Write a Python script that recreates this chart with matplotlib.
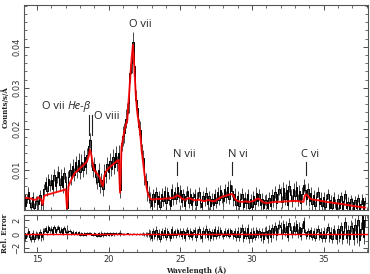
import numpy as np
import matplotlib.pyplot as plt
from matplotlib.ticker import MultipleLocator

# wavelength bins (Angstrom), 0.1 A wide, 14.0 .. 37.9
wave = np.round(np.arange(14.0, 37.95, 0.1), 2)

# observed flux (counts/s/A), one row per Angstrom
flux = [
    0.0015, 0.0038, 0.0012, 0.0030, 0.0045, 0.0018, 0.0009, 0.0033, 0.0008, 0.0025,  # 14
    0.0024, 0.0016, 0.0038, 0.0014, 0.0016, 0.0052, 0.0070, 0.0048, 0.0078, 0.0062,  # 15
    0.0075, 0.0052, 0.0088, 0.0060, 0.0082, 0.0095, 0.0064, 0.0086, 0.0058, 0.0092,  # 16
    0.0070, 0.0008, 0.0082, 0.0100, 0.0079, 0.0110, 0.0088, 0.0118, 0.0096, 0.0124,  # 17
    0.0095, 0.0120, 0.0100, 0.0131, 0.0108, 0.0136, 0.0158, 0.0172, 0.0125, 0.0100,  # 18
    0.0115, 0.0082, 0.0070, 0.0100, 0.0060, 0.0076, 0.0052, 0.0098, 0.0084, 0.0114,  # 19
    0.0095, 0.0122, 0.0102, 0.0132, 0.0108, 0.0140, 0.0116, 0.0142, 0.0050, 0.0165,  # 20
    0.0182, 0.0190, 0.0225, 0.0238, 0.0262, 0.0335, 0.0360, 0.0412, 0.0352, 0.0270,  # 21
    0.0250, 0.0205, 0.0198, 0.0142, 0.0128, 0.0084, 0.0072, 0.0045, 0.0040, 0.0026,  # 22
    0.0012, 0.0040, 0.0022, 0.0046, 0.0016, 0.0035, 0.0010, 0.0042, 0.0024, 0.0048,  # 23
    0.0018, 0.0045, 0.0026, 0.0012, 0.0052, 0.0028, 0.0046, 0.0030, 0.0058, 0.0034,  # 24
    0.0050, 0.0022, 0.0040, 0.0012, 0.0036, 0.0048, 0.0020, 0.0042, 0.0015, 0.0034,  # 25
    0.0040, 0.0014, 0.0032, 0.0046, 0.0020, 0.0010, 0.0036, 0.0024, 0.0044, 0.0016,  # 26
    0.0036, 0.0011, 0.0030, 0.0015, 0.0040, 0.0020, 0.0046, 0.0026, 0.0050, 0.0032,  # 27
    0.0024, 0.0052, 0.0034, 0.0058, 0.0030, 0.0062, 0.0048, 0.0026, 0.0042, 0.0014,  # 28
    0.0036, 0.0012, 0.0030, 0.0042, 0.0009, 0.0032, 0.0018, 0.0040, 0.0008, 0.0028,  # 29
    0.0010, 0.0036, 0.0016, 0.0044, 0.0024, 0.0040, 0.0013, 0.0030, 0.0007, 0.0026,  # 30
    0.0026, 0.0007, 0.0032, 0.0012, 0.0038, 0.0024, 0.0046, 0.0018, 0.0040, 0.0052,  # 31
    0.0044, 0.0022, 0.0056, 0.0030, 0.0050, 0.0014, 0.0060, 0.0038, 0.0024, 0.0052,  # 32
    0.0036, 0.0058, 0.0026, 0.0048, 0.0018, 0.0042, 0.0062, 0.0050, 0.0028, 0.0054,  # 33
    0.0024, 0.0044, 0.0016, 0.0038, 0.0012, 0.0034, 0.0046, 0.0016, 0.0032, 0.0011,  # 34
    0.0034, 0.0010, 0.0030, 0.0042, 0.0008, 0.0027, 0.0006, 0.0033, 0.0018, 0.0005,  # 35
    0.0030, 0.0008, 0.0036, 0.0004, 0.0024, 0.0040, 0.0006, 0.0022, 0.0003, 0.0028,  # 36
    0.0022, 0.0003, 0.0026, 0.0007, 0.0031, 0.0002, 0.0016, 0.0032, 0.0004, 0.0024,  # 37
]

# model flux, same bins
model = [
    0.0031, 0.0032, 0.0032, 0.0031, 0.0031, 0.0030, 0.0030, 0.0028, 0.0027, 0.0027,  # 14
    0.0029, 0.0033, 0.0030, 0.0027, 0.0015, 0.0036, 0.0038, 0.0039, 0.0040, 0.0041,  # 15
    0.0042, 0.0043, 0.0044, 0.0045, 0.0046, 0.0047, 0.0048, 0.0049, 0.0050, 0.0051,  # 16
    0.0053, 0.0006, 0.0060, 0.0068, 0.0076, 0.0083, 0.0090, 0.0094, 0.0097, 0.0100,  # 17
    0.0104, 0.0107, 0.0110, 0.0113, 0.0117, 0.0122, 0.0132, 0.0149, 0.0135, 0.0112,  # 18
    0.0100, 0.0094, 0.0090, 0.0086, 0.0080, 0.0068, 0.0060, 0.0085, 0.0095, 0.0100,  # 19
    0.0104, 0.0107, 0.0110, 0.0113, 0.0116, 0.0119, 0.0122, 0.0124, 0.0044, 0.0155,  # 20
    0.0175, 0.0195, 0.0210, 0.0220, 0.0270, 0.0320, 0.0370, 0.0405, 0.0345, 0.0280,  # 21
    0.0240, 0.0215, 0.0190, 0.0150, 0.0120, 0.0090, 0.0068, 0.0048, 0.0036, 0.0030,  # 22
    0.0028, 0.0028, 0.0028, 0.0028, 0.0029, 0.0029, 0.0029, 0.0029, 0.0029, 0.0030,  # 23
    0.0030, 0.0030, 0.0030, 0.0031, 0.0031, 0.0032, 0.0033, 0.0036, 0.0038, 0.0036,  # 24
    0.0034, 0.0030, 0.0028, 0.0027, 0.0028, 0.0030, 0.0031, 0.0030, 0.0028, 0.0027,  # 25
    0.0026, 0.0026, 0.0027, 0.0027, 0.0026, 0.0025, 0.0024, 0.0024, 0.0025, 0.0026,  # 26
    0.0026, 0.0025, 0.0024, 0.0023, 0.0024, 0.0026, 0.0028, 0.0030, 0.0032, 0.0034,  # 27
    0.0035, 0.0036, 0.0037, 0.0038, 0.0039, 0.0040, 0.0041, 0.0038, 0.0030, 0.0026,  # 28
    0.0024, 0.0023, 0.0022, 0.0022, 0.0022, 0.0023, 0.0023, 0.0022, 0.0022, 0.0022,  # 29
    0.0023, 0.0024, 0.0026, 0.0028, 0.0030, 0.0029, 0.0026, 0.0023, 0.0021, 0.0020,  # 30
    0.0019, 0.0019, 0.0020, 0.0020, 0.0021, 0.0021, 0.0022, 0.0022, 0.0022, 0.0022,  # 31
    0.0022, 0.0022, 0.0023, 0.0023, 0.0023, 0.0023, 0.0023, 0.0024, 0.0024, 0.0024,  # 32
    0.0024, 0.0024, 0.0024, 0.0023, 0.0023, 0.0022, 0.0022, 0.0038, 0.0040, 0.0036,  # 33
    0.0032, 0.0029, 0.0028, 0.0027, 0.0027, 0.0026, 0.0026, 0.0025, 0.0024, 0.0024,  # 34
    0.0023, 0.0023, 0.0022, 0.0021, 0.0021, 0.0020, 0.0020, 0.0019, 0.0019, 0.0018,  # 35
    0.0018, 0.0017, 0.0017, 0.0016, 0.0016, 0.0015, 0.0015, 0.0014, 0.0014, 0.0013,  # 36
    0.0012, 0.0012, 0.0011, 0.0011, 0.0010, 0.0010, 0.0009, 0.0009, 0.0008, 0.0008,  # 37
]

# 1-sigma error per Angstrom, 14 .. 37
err_per_A = [0.0012, 0.0013, 0.0015, 0.0016, 0.0018, 0.0017, 0.0018, 0.0024,
             0.0020, 0.0013, 0.0013, 0.0013, 0.0013, 0.0013, 0.0014, 0.0013,
             0.0013, 0.0014, 0.0015, 0.0015, 0.0013, 0.0012, 0.0011, 0.0010]

# line identifications
line_labels = ["N vii", "N vi", "C vi"]
line_waves = [24.8, 28.6, 33.75]
heb_waves = [18.66, 18.85]   # O vii He-beta and O viii markers

flux = np.array(flux)
model = np.array(model)
err = np.repeat(err_per_A, 10)
rel = (flux - model) / model
rel_err = err / model

fig = plt.figure(figsize=(3.7, 2.74), dpi=100)
ax = fig.add_axes([0.065, 0.2336, 0.9297, 0.7482])
ax2 = fig.add_axes([0.065, 0.0803, 0.9297, 0.135])

ax.errorbar(wave, flux, yerr=err, fmt='none', ecolor='black', elinewidth=0.5)
ax.plot(wave, flux, color='black', lw=0.7, drawstyle='steps-mid')
ax.plot(wave, model, color='red', lw=1.4, alpha=0.9)

ax2.errorbar(wave, rel, yerr=np.minimum(rel_err, 1.0), fmt='none',
             ecolor='black', elinewidth=0.5)
ax2.plot(wave, rel, color='black', lw=0.7, drawstyle='steps-mid')
ax2.axhline(0, color='red', lw=1.0)

for a in (ax, ax2):
    a.set_xlim(14.1, 38.1)
    a.xaxis.set_major_locator(MultipleLocator(5))
    a.xaxis.set_minor_locator(MultipleLocator(1))
    a.tick_params(which='both', direction='in', top=True, right=True,
                  labelsize=6, colors='#333333', pad=2)
    a.tick_params(which='major', length=3.5, width=0.6)
    a.tick_params(which='minor', length=2, width=0.5)
    for s in a.spines.values():
        s.set_linewidth(0.8)
        s.set_color('#555555')

ax.set_ylim(0.0002, 0.0502)
ax.yaxis.set_major_locator(MultipleLocator(0.01))
ax.yaxis.set_minor_locator(MultipleLocator(0.002))
ax.tick_params(labelbottom=False)
ax.set_yticks([0.01, 0.02, 0.03, 0.04])
for t in ax.get_yticklabels():
    t.set_rotation(90)
    t.set_va('center')

ax2.set_ylim(-2.6, 2.75)
ax2.set_yticks([-2, 0, 2])
ax2.yaxis.set_minor_locator(MultipleLocator(1))
for t in ax2.get_yticklabels():
    t.set_rotation(90)
    t.set_va('center')

lab = dict(family='DejaVu Serif', fontweight='bold', fontsize=5, color='#222222')
ax.set_ylabel("Counts/s/Å", labelpad=2, **lab)
ax2.set_ylabel("Rel. Error", labelpad=2, **lab)
ax2.set_xlabel("Wavelength (Å)", labelpad=2, **lab)

tf = dict(family='Open Sans', fontsize=8, color='#222222', va='center')
ax.text(22.2, 0.0454, "O vii", ha='center', **tf)
ax.text(16.95, 0.0254, "O vii", ha='right', **tf)
ax.text(17.12, 0.0254, "He-β", ha='left', style='italic', **tf)
ax.text(18.98, 0.0229, "O viii", ha='left', **tf)
for w in heb_waves:
    ax.plot([w, w], [0.0185, 0.0234], color='#222222', lw=0.8)
for name, w in zip(line_labels, line_waves):
    ax.text(w - 0.3, 0.0137, name, ha='left', **tf)
    ax.plot([w, w], [0.0088, 0.0120], color='#222222', lw=0.8)

fig.savefig("out.png", dpi=100)
